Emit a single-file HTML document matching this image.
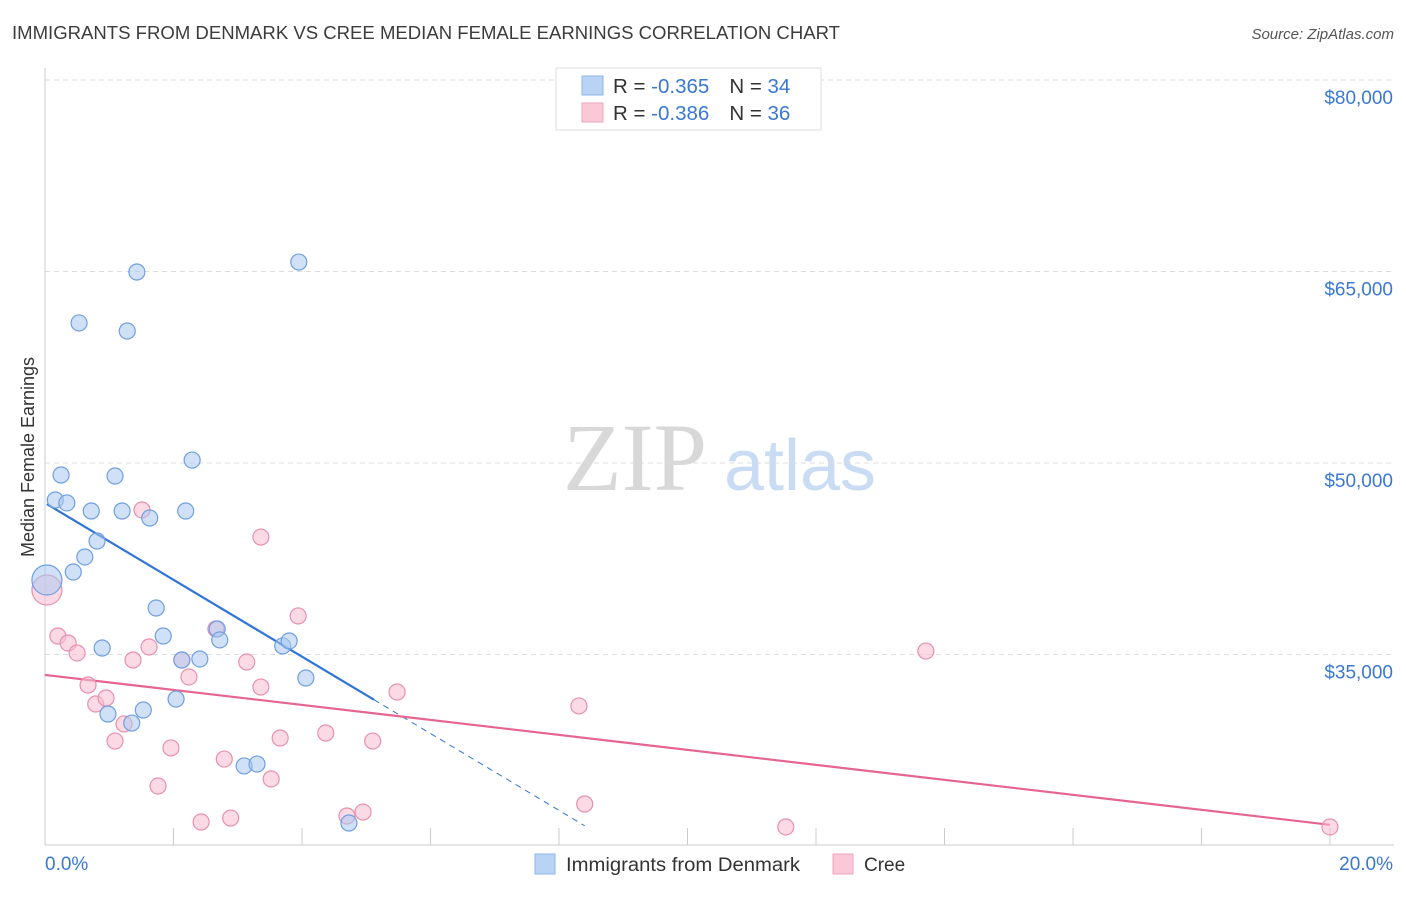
<!DOCTYPE html>
<html><head><meta charset="utf-8"><style>
body{margin:0;background:#fff;font-family:"Liberation Sans",sans-serif;}
svg text{font-family:"Liberation Sans",sans-serif;}
</style></head><body>
<svg id="chart" width="1406" height="892" xmlns="http://www.w3.org/2000/svg">
<text x="12" y="39" font-size="18" fill="#3c3c3c" textLength="828" lengthAdjust="spacingAndGlyphs">IMMIGRANTS FROM DENMARK VS CREE MEDIAN FEMALE EARNINGS CORRELATION CHART</text>
<text x="1394" y="39" font-size="15" font-style="italic" fill="#555" text-anchor="end">Source: ZipAtlas.com</text>
<text x="34" y="457" font-size="18" fill="#333" text-anchor="middle" transform="rotate(-90 34 457)">Median Female Earnings</text>
<g><text x="635" y="490" font-size="96" fill="#d8d8d8" text-anchor="middle" style="font-family:'Liberation Serif',serif">ZIP</text><text x="800" y="490" font-size="72" fill="#c9dcf3" text-anchor="middle">atlas</text></g>
<g id="grid"></g><g id="axes"></g><g id="lines"></g><g id="pts"></g>
<g>
<rect x="556" y="68" width="265" height="62" fill="#fff" stroke="#ddd"/>
<rect x="582" y="76" width="21" height="19" fill="#b9d3f5" stroke="#8fb4e8"/>
<rect x="582" y="103" width="21" height="19" fill="#fbc8d7" stroke="#eea5bc"/>
<text x="613" y="93" font-size="20.5" fill="#333">R = <tspan fill="#3a78d4">-0.365</tspan><tspan dx="20">N = </tspan><tspan fill="#3a78d4">34</tspan></text>
<text x="613" y="120" font-size="20.5" fill="#333">R = <tspan fill="#3a78d4">-0.386</tspan><tspan dx="20">N = </tspan><tspan fill="#3a78d4">36</tspan></text>
</g>
<g>
<rect x="535" y="854" width="20" height="20" fill="#b9d3f5" stroke="#8fb4e8"/>
<text x="566" y="871" font-size="19" fill="#333" textLength="234" lengthAdjust="spacingAndGlyphs">Immigrants from Denmark</text>
<rect x="833" y="854" width="20" height="20" fill="#fbc8d7" stroke="#eea5bc"/>
<text x="864" y="871" font-size="19" fill="#333">Cree</text>
</g>
</svg>
<script>
const yTicks=[35000,50000,65000,80000];
const yTickLabels=["$35,000","$50,000","$65,000","$80,000"];
const xTickLabels=["0.0%","20.0%"];
const denX=[0.03,0.16,0.25,0.34,0.44,0.53,0.62,0.72,0.81,0.89,0.98,1.09,1.20,1.28,1.35,1.43,1.53,1.63,1.73,1.84,2.04,2.13,2.19,2.29,2.41,2.68,2.72,3.10,3.30,3.70,3.80,3.95,4.06,4.73];
const denY=[40835,47100,49060,46870,41460,60970,42640,46240,43890,35510,30340,48980,46240,60340,29630,64960,30650,45690,38640,36450,31510,34570,46240,50230,34650,37000,36140,26270,26420,35670,36060,65740,33160,21800];
const creeX=[0.03,0.20,0.36,0.50,0.67,0.79,0.95,1.09,1.23,1.37,1.51,1.62,1.76,1.96,2.13,2.24,2.43,2.66,2.79,2.89,3.14,3.36,3.36,3.52,3.66,3.94,4.37,4.70,4.95,5.10,5.48,8.31,8.40,11.53,13.71,20.0];
const creeY=[40050,36450,35900,35120,32610,31120,31590,28220,29560,34570,46320,35590,24700,27680,34570,33240,21880,37000,26810,22190,34410,44200,32450,25250,28460,38020,28850,22350,22660,28220,32060,30970,23290,21490,35270,21490];
const denFit=[46870,-3010];
const creeFit=[33400,-587];
const NS="http://www.w3.org/2000/svg";
const X=v=>45+v*1285/20;
const Y=v=>463-(v-50000)*191.5/15000;
function mk(tag,attrs,parent){const e=document.createElementNS(NS,tag);for(const k in attrs)e.setAttribute(k,attrs[k]);document.getElementById(parent).appendChild(e);return e;}
yTicks.forEach((t,i)=>{
 const l=mk('line',{x1:45,x2:1394,y1:Y(t),y2:Y(t),stroke:'#ddd','stroke-dasharray':'5,4'},'grid');
 
 
 const tx=mk('text',{x:1393,y:Y(t)+24,'font-size':19,fill:'#3a78d4','text-anchor':'end'},'axes');
 tx.textContent=yTickLabels[i];
 
 
});
mk('line',{x1:45,x2:45,y1:68,y2:845,stroke:'#ccc'},'axes');
mk('line',{x1:45,x2:1394,y1:845,y2:845,stroke:'#ccc'},'axes');
for(let i=0;i<=10;i++){mk('line',{x1:X(i*2),x2:X(i*2),y1:828,y2:845,stroke:'#ccc'},'axes');}
[[0,'start',45],[20,'end',1393]].forEach((a,i)=>{
 const tx=mk('text',{x:a[2],y:870,'font-size':19,fill:'#3a78d4','text-anchor':a[1]},'axes');
 tx.textContent=xTickLabels[i];
 
 
});
function pts(xs,ys,fill,stroke,name){
 xs.forEach((x,i)=>{
  const big=i===0;
  const c=mk('circle',{cx:X(x),cy:Y(ys[i]),r:big?15:8,fill:fill,'fill-opacity':0.55,stroke:stroke,'stroke-width':1.2},'pts');
  
  
 });
}
pts(creeX,creeY,'#f9bcd0','#e890ac','cree-point');
pts(denX,denY,'#a9c8f0','#6f9fe0','denmark-point');
const f=(p,x)=>p[0]+p[1]*x;
let l1=mk('line',{x1:X(0.03),y1:Y(f(denFit,0.03)),x2:X(5.12),y2:Y(f(denFit,5.12)),stroke:'#2f74d8','stroke-width':2.2},'lines');


let l2=mk('line',{x1:X(5.12),y1:Y(f(denFit,5.12)),x2:X(8.4),y2:Y(f(denFit,8.4)),stroke:'#2f74d8','stroke-width':1,'stroke-dasharray':'6,5'},'lines');


let l3=mk('line',{x1:X(0),y1:Y(f(creeFit,0)),x2:X(20),y2:Y(f(creeFit,20)),stroke:'#e5658f','stroke-width':2.2},'lines');


</script>
</body></html>
